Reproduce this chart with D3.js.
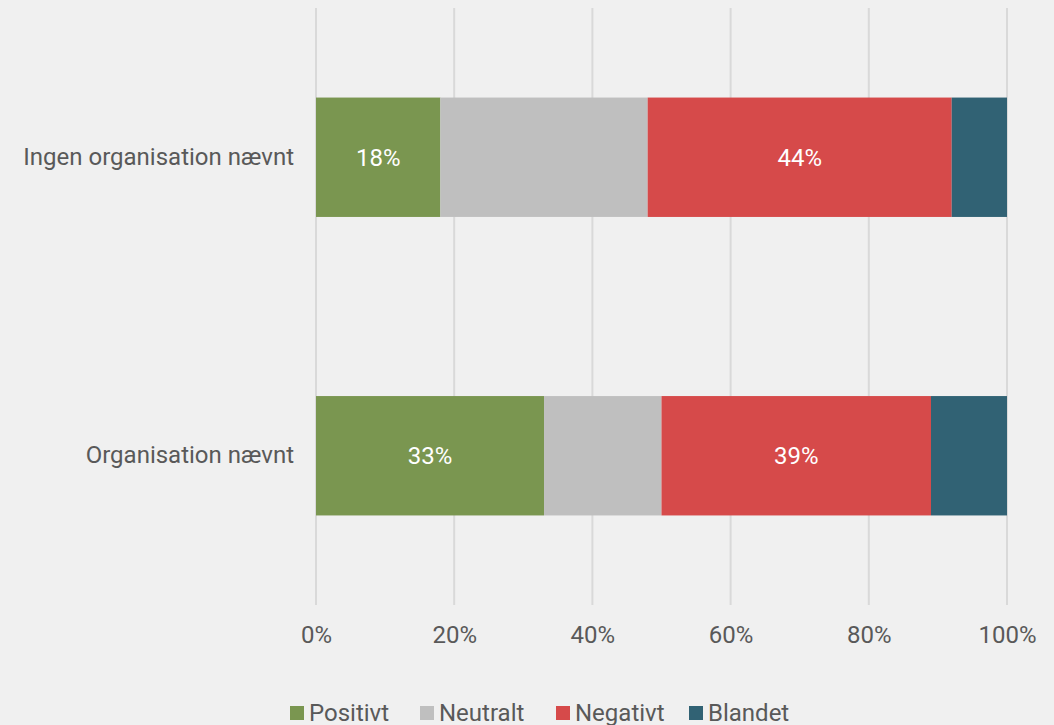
<!DOCTYPE html>
<html>
<head>
<meta charset="utf-8">
<script src="https://cdn.jsdelivr.net/npm/d3@7"></script>
<style>
  body { margin: 0; background: #f0f0f0; }
  svg { display: block; font-family: Roboto, sans-serif; }
</style>
</head>
<body>
<script>
var categories = ["Ingen organisation nævnt", "Organisation nævnt"];
var seriesNames = ["Positivt", "Neutralt", "Negativt", "Blandet"];
var positivt = [18, 33];
var neutralt = [30, 17];
var negativt = [44, 39];
var blandet = [8, 11];
var tickValues = [0, 20, 40, 60, 80, 100];
var colors = ["#7a9650", "#bfbfbf", "#d64a4a", "#316274"];
var labelled = ["Positivt", "Negativt"];

var width = 1054, height = 725;
var margin = {left: 316, right: 1007, top: 8, bottom: 605};

var rows = categories.map(function(c, i) {
    return {cat: c, Positivt: positivt[i], Neutralt: neutralt[i], Negativt: negativt[i], Blandet: blandet[i]};
});
var stacked = d3.stack().keys(seriesNames)(rows);

var x = d3.scaleLinear().domain([0, 100]).range([margin.left, margin.right]);
var y = d3.scaleBand().domain(categories).range([margin.top, margin.bottom]).paddingInner(0.6).paddingOuter(0.3);
var color = d3.scaleOrdinal().domain(seriesNames).range(colors);

var svg = d3.select("body").append("svg")
    .attr("width", width)
    .attr("height", height);

// gridlines
svg.selectAll(".grid")
    .data(tickValues)
    .enter().append("line")
    .attr("x1", function(d) { return x(d); })
    .attr("x2", function(d) { return x(d); })
    .attr("y1", margin.top)
    .attr("y2", margin.bottom)
    .style("stroke", "#d9d9d9")
    .style("stroke-width", 2);

// bars
var layer = svg.selectAll(".layer")
    .data(stacked)
    .enter().append("g")
    .attr("class", "layer")
    .style("fill", function(d) { return color(d.key); });

layer.selectAll("rect")
    .data(function(d) { return d; })
    .enter().append("rect")
    .attr("x", function(d) { return x(d[0]); })
    .attr("y", function(d) { return y(d.data.cat); })
    .attr("width", function(d) { return x(d[1]) - x(d[0]); })
    .attr("height", y.bandwidth());

// value labels
stacked.filter(function(s) { return labelled.indexOf(s.key) >= 0; }).forEach(function(s) {
    svg.selectAll(".lbl-" + s.key)
        .data(s)
        .enter().append("text")
        .attr("x", function(d) { return (x(d[0]) + x(d[1])) / 2; })
        .attr("y", function(d) { return y(d.data.cat) + y.bandwidth() / 2; })
        .attr("dy", "0.35em")
        .attr("text-anchor", "middle")
        .style("fill", "#ffffff")
        .style("font-size", "24px")
        .text(function(d) { return (d[1] - d[0]) + "%"; });
});

// x axis
var xAxis = svg.append("g")
    .attr("transform", "translate(0," + margin.bottom + ")")
    .call(d3.axisBottom(x).tickValues(tickValues).tickSize(0).tickPadding(21)
        .tickFormat(function(d) { return d + "%"; }));
xAxis.select(".domain").remove();
xAxis.selectAll("text")
    .style("font-family", "Roboto, sans-serif")
    .style("font-size", "24px")
    .style("fill", "#595959");

// y axis
var yAxis = svg.append("g")
    .attr("transform", "translate(" + margin.left + ",0)")
    .call(d3.axisLeft(y).tickSize(0).tickPadding(22));
yAxis.select(".domain").remove();
yAxis.selectAll("text")
    .style("font-family", "Roboto, sans-serif")
    .style("font-size", "24px")
    .style("fill", "#595959");

// legend
var legendX = [290, 420, 556, 689];
var legend = svg.selectAll(".legend")
    .data(seriesNames)
    .enter().append("g")
    .attr("transform", function(d, i) { return "translate(" + legendX[i] + ",713)"; });
legend.append("rect")
    .attr("x", 0)
    .attr("y", -7)
    .attr("width", 14)
    .attr("height", 14)
    .style("fill", function(d) { return color(d); });
legend.append("text")
    .attr("x", 19)
    .attr("dy", "0.35em")
    .style("font-size", "24px")
    .style("fill", "#595959")
    .text(function(d) { return d; });
</script>
</body>
</html>
